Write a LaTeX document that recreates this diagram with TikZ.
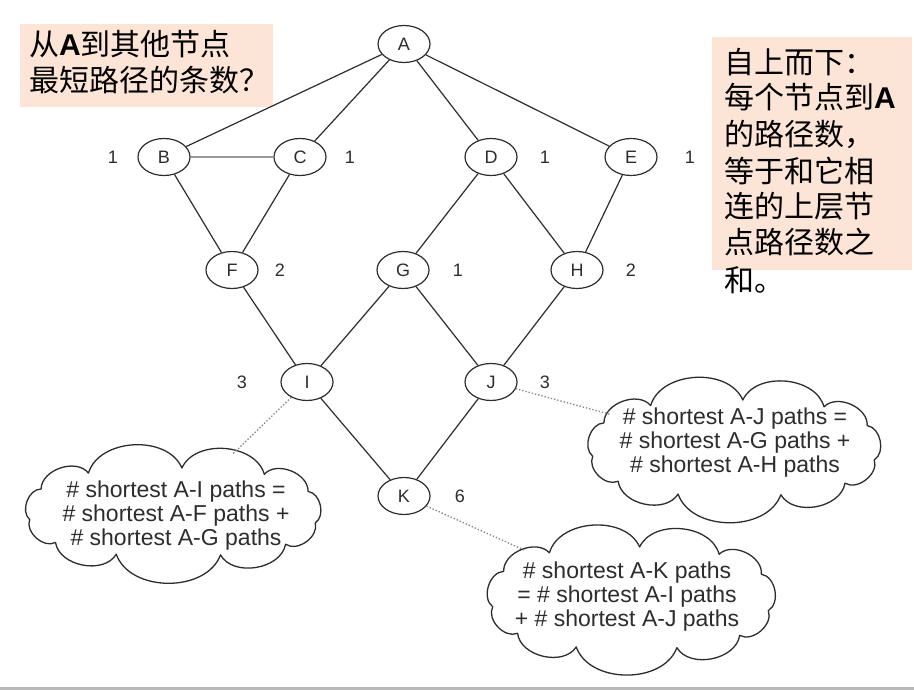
\documentclass[tikz,border=0pt]{standalone}
\usepackage{fontspec}
\setmainfont{Liberation Sans}
\newfontfamily\cjk{Noto Sans CJK SC}
\newfontfamily\lat{Liberation Sans}
\usetikzlibrary{shapes.geometric}
\definecolor{peach}{RGB}{252,229,214}
\definecolor{ink}{RGB}{45,45,45}
\newcommand\puffcloud[4]{%
  \draw[cloudline] ({#1+.988*#3},{#2+.247*#4})
   \foreach \u/\v in {.782/.733,.330/.974,-.394/.960,-.816/.692,-.995/.172,-.916/-.523,-.587/-.885,.062/-1,.634/-.857,.938/-.467,.988/.247}
   { to[bend left=70] ({#1+\u*#3},{#2+\v*#4}) };}
\begin{document}
\begin{tikzpicture}[x=1pt,y=-1pt,
 vert/.style={ellipse,draw=ink,line width=1.2pt,minimum width=52pt,minimum height=37pt,inner sep=0pt,font=\fontsize{18}{18}\selectfont,text=ink},
 num/.style={font=\fontsize{18}{18}\selectfont,text=ink,inner sep=0pt},
 edge/.style={draw=ink,line width=1.2pt},
 cloudline/.style={draw=ink,line width=1.3pt,line cap=round,line join=round},
 cloudarea/.style={ellipse,draw=none,inner sep=0pt},
 thoughttext/.style={inner sep=0pt,align=center,font=\fontsize{23}{24}\selectfont,text=ink},
 hint/.style={draw=gray,line width=1.3pt,dotted},
 cn/.style={anchor=base west,inner sep=0pt,font=\cjk\fontsize{30}{36}\selectfont},
 box/.style={fill=peach,draw=none}]
\useasboundingbox (0,0) rectangle (914,690);
\fill[white] (0,0) rectangle (914,690);
\fill[gray!55] (0,687) rectangle (914,690);

% text boxes
\path[box] (20,24) rectangle (273,107);
\path[box] (712,37) rectangle (912,270);
\node[cn] (t1) at (29,56) {从{\lat\bfseries A}到其他节点};
\node[cn] (t2) at (29,92) {最短路径的条数？};
\node[cn] (r1) at (724,74) {自上而下：};
\node[cn] (r2) at (724,109) {每个节点到{\lat\bfseries A}};
\node[cn] (r3) at (724,146) {的路径数，};
\node[cn] (r4) at (724,183) {等于和它相};
\node[cn] (r5) at (724,218) {连的上层节};
\node[cn] (r6) at (724,254) {点路径数之};
\node[cn] (r7) at (724,291) {和。};

% vertices
\node[vert] (A) at (404,44) {A};
\node[vert] (B) at (164,157) {B};
\node[vert] (C) at (300,157) {C};
\node[vert] (D) at (491,157) {D};
\node[vert] (E) at (631,157) {E};
\node[vert] (F) at (232,270) {F};
\node[vert] (G) at (403,270) {G};
\node[vert] (H) at (577,270) {H};
\node[vert] (I) at (307,382) {I};
\node[vert] (J) at (491,382) {J};
\node[vert] (K) at (404,496) {K};

% counts
\node[num] (nB) at (113,157) {1};
\node[num] (nC) at (350,157) {1};
\node[num] (nD) at (545,157) {1};
\node[num] (nE) at (690,157) {1};
\node[num] (nF) at (280,270) {2};
\node[num] (nG) at (458,270) {1};
\node[num] (nH) at (631,270) {2};
\node[num] (nI) at (242,382) {3};
\node[num] (nJ) at (545,382) {3};
\node[num] (nK) at (460,496) {6};

% edges
\draw[edge] (A) -- (B);
\draw[edge] (A) -- (C);
\draw[edge] (A) -- (D);
\draw[edge] (A) -- (E);
\draw[draw=gray!80,line width=2.6pt] (B) -- (C);
\draw[edge] (B) -- (F);
\draw[edge] (C) -- (F);
\draw[edge] (D) -- (G);
\draw[edge] (D) -- (H);
\draw[edge] (E) -- (H);
\draw[edge] (F) -- (I);
\draw[edge] (G) -- (I);
\draw[edge] (G) -- (J);
\draw[edge] (H) -- (J);
\draw[edge] (I) -- (K);
\draw[edge] (J) -- (K);

% clouds
\puffcloud{173}{512}{144}{44}
\node[cloudarea,minimum width=292pt,minimum height=126pt] (cI) at (173,512) {};
\node[thoughttext] (xI) at (176,516)
  {\# shortest A-I paths =\\\# shortest A-F paths +\\\# shortest A-G paths};
\puffcloud{734}{448}{142}{48}
\node[cloudarea,minimum width=288pt,minimum height=134pt] (cJ) at (734,448) {};
\node[thoughttext] (xJ) at (735,443)
  {\# shortest A-J paths =\\\# shortest A-G paths +\\\# shortest A-H paths};
\puffcloud{631}{598}{139}{51}
\node[cloudarea,minimum width=286pt,minimum height=140pt] (cK) at (631,598) {};
\node[thoughttext] (xK) at (627,597)
  {\# shortest A-K paths\\= \# shortest A-I paths\\+ \# shortest A-J paths};

\draw[hint] (I) -- (cI);
\draw[hint] (J) -- (cJ);
\draw[hint] (K) -- (cK);
\end{tikzpicture}
\end{document}
